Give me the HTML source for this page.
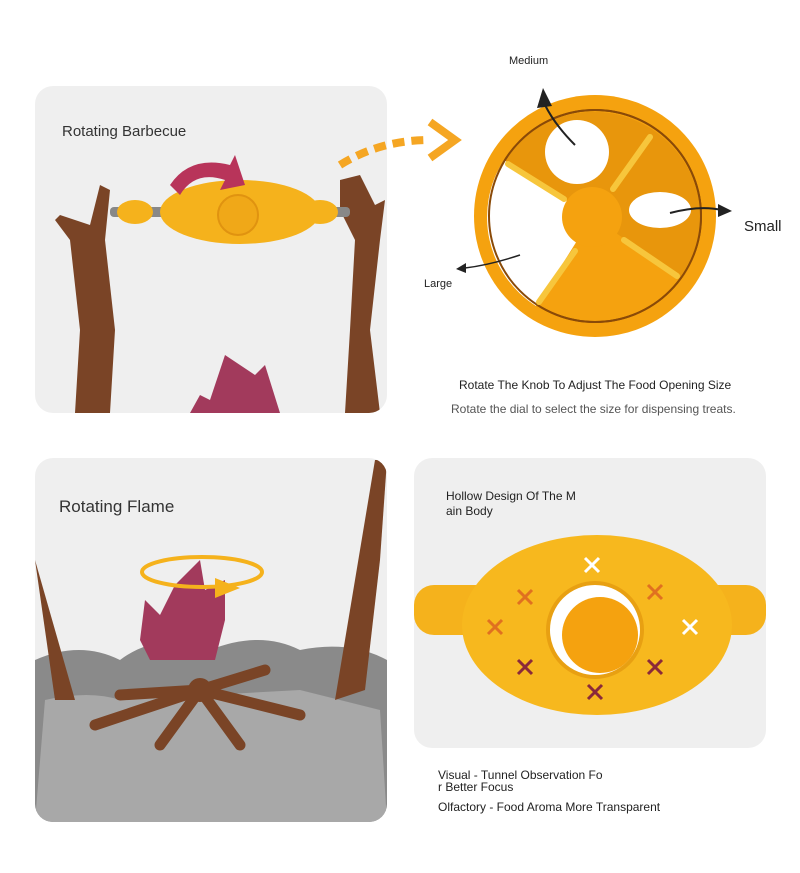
<!DOCTYPE html>
<html><head><meta charset="utf-8"><style>
body{margin:0;background:#fff;width:800px;height:873px;overflow:hidden;font-family:"Liberation Sans",sans-serif;}
svg{position:absolute;left:0;top:0}
</style></head><body>
<svg width="800" height="873" viewBox="0 0 800 873" xmlns="http://www.w3.org/2000/svg" font-family="Liberation Sans, sans-serif">
<defs>
<clipPath id="c1"><rect x="35" y="86" width="352" height="327" rx="18"/></clipPath>
<clipPath id="c2"><rect x="35" y="458" width="352" height="364" rx="18"/></clipPath>
<clipPath id="c3"><rect x="414" y="458" width="352" height="290" rx="18"/></clipPath>
</defs>
<!-- Panel 1 -->
<g clip-path="url(#c1)">
<rect x="35" y="86" width="352" height="327" fill="#efefef"/>
<path d="M60 215 L90 225 L100 185 L110 190 L105 240 L115 330 L110 413 L75 413 L80 330 L70 240 L55 220Z" fill="#7a4426"/>
<path d="M340 180 L360 175 L375 205 L385 200 L380 240 L370 330 L380 413 L345 413 L350 330 L355 240 L340 210Z" fill="#7a4426"/>
<rect x="110" y="207" width="240" height="10" rx="4" fill="#888"/>
<ellipse cx="240" cy="212" rx="80" ry="32" fill="#f5b21c"/>
<ellipse cx="135" cy="212" rx="18" ry="12" fill="#f5b21c"/>
<ellipse cx="320" cy="212" rx="18" ry="12" fill="#f5b21c"/>
<circle cx="238" cy="215" r="20" fill="#f0a818" stroke="#e09310" stroke-width="2"/>
<path d="M170 185 Q190 155 230 165 L235 155 L245 185 L220 190 L225 180 Q195 170 180 195Z" fill="#b8345a"/>
<path d="M190 413 L200 395 L210 400 L225 355 L255 375 L265 365 L280 413Z" fill="#a23a5c"/>
</g>
<text x="62" y="136" font-size="15" fill="#333">Rotating Barbecue</text>
<path d="M340 165 Q380 140 430 140" stroke="#f5a623" stroke-width="8" fill="none" stroke-dasharray="12 7"/>
<path d="M430 122 L455 140 L430 158" stroke="#f5a623" stroke-width="8" fill="none"/>
<!-- Wheel -->
<circle cx="595" cy="216" r="121" fill="#f5a20f"/>
<circle cx="595" cy="216" r="106" fill="#f5a20f" stroke="#8a4a08" stroke-width="2"/>
<path d="M592 217 L504 160 A105 105 0 0 1 683 278 Z" fill="#e8960c"/>
<path d="M592 217 L504 160 A105 105 0 0 0 536 306 Z" fill="#fff"/>
<circle cx="595" cy="216" r="106" fill="none" stroke="#8a4a08" stroke-width="2"/>
<circle cx="577" cy="152" r="32" fill="#fff"/>
<ellipse cx="660" cy="210" rx="31" ry="18" fill="#fff"/>
<circle cx="592" cy="217" r="30" fill="#f5a20f"/>
<g stroke="#f7c63c" stroke-width="6" stroke-linecap="round">
<line x1="508" y1="164" x2="564" y2="199"/><line x1="650" y1="137" x2="613" y2="189"/>
<line x1="624" y1="240" x2="677" y2="276"/><line x1="575" y1="251" x2="539" y2="302"/>
</g>
<path d="M575 145 Q555 125 545 105" stroke="#222" stroke-width="2" fill="none"/><path d="M537 108 L543 88 L552 106Z" fill="#222"/>
<path d="M670 213 Q700 205 722 210" stroke="#222" stroke-width="2" fill="none"/><path d="M718 204 L732 211 L718 217Z" fill="#222"/>
<path d="M520 255 Q490 265 465 268" stroke="#222" stroke-width="1.5" fill="none"/><path d="M466 263 L456 269 L466 273Z" fill="#222"/>
<text x="509" y="64" font-size="11" fill="#222">Medium</text>
<text x="744" y="231" font-size="15" fill="#222">Small</text>
<text x="424" y="287" font-size="11" fill="#222">Large</text>
<text x="459" y="389" font-size="12" fill="#222">Rotate The Knob To Adjust The Food Opening Size</text>
<text x="451" y="413" font-size="12" fill="#555">Rotate the dial to select the size for dispensing treats.</text>
<!-- Panel 2 -->
<g clip-path="url(#c2)">
<rect x="35" y="458" width="352" height="364" fill="#efefef"/>
<path d="M35 660 Q80 640 120 660 Q160 630 210 650 Q260 630 300 650 Q350 640 387 660 L387 822 L35 822Z" fill="#8a8a8a"/>
<path d="M45 700 Q90 690 120 700 L300 690 Q340 700 380 710 L387 822 L35 822Z" fill="#a8a8a8"/>
<path d="M35 560 L55 700 L75 700Z" fill="#7a4426"/>
<path d="M375 460 L387 460 L380 560 L365 690 L335 700 L355 580Z" fill="#7a4426"/>
<path d="M140 640 L145 600 L160 615 L175 585 L200 560 L205 590 L225 580 L225 620 L215 660 L150 660Z" fill="#a23a5c"/>
<g stroke="#7a4426" stroke-width="11" stroke-linecap="round">
<line x1="200" y1="690" x2="120" y2="695"/><line x1="200" y1="690" x2="300" y2="715"/>
<line x1="200" y1="690" x2="95" y2="725"/><line x1="200" y1="690" x2="240" y2="745"/>
<line x1="200" y1="690" x2="160" y2="745"/><line x1="200" y1="690" x2="265" y2="670"/>
</g>
<circle cx="200" cy="690" r="12" fill="#7a4426"/>
</g>
<ellipse cx="202" cy="572" rx="60" ry="15" fill="none" stroke="#f5b21c" stroke-width="4"/>
<path d="M215 578 L240 588 L215 598Z" fill="#f5b21c"/>
<text x="59" y="512" font-size="17" fill="#333">Rotating Flame</text>
<!-- Panel 3 -->
<g clip-path="url(#c3)">
<rect x="414" y="458" width="352" height="290" fill="#efefef"/>
<rect x="414" y="585" width="352" height="50" rx="20" fill="#f5b21c"/>
<ellipse cx="597" cy="625" rx="135" ry="90" fill="#f7b81e"/>
<circle cx="595" cy="630" r="47" fill="#fff" stroke="#e8a012" stroke-width="4"/>
<circle cx="600" cy="635" r="38" fill="#f5a20f"/>
<g stroke-width="3">
<path d="M585 558l14 14M599 558l-14 14" stroke="#fff"/>
<path d="M518 590l14 14M532 590l-14 14" stroke="#e07020"/>
<path d="M648 585l14 14M662 585l-14 14" stroke="#e07020"/>
<path d="M488 620l14 14M502 620l-14 14" stroke="#e07020"/>
<path d="M683 620l14 14M697 620l-14 14" stroke="#fff"/>
<path d="M518 660l14 14M532 660l-14 14" stroke="#8a2a3a"/>
<path d="M648 660l14 14M662 660l-14 14" stroke="#8a2a3a"/>
<path d="M588 685l14 14M602 685l-14 14" stroke="#8a2a3a"/>
</g>
</g>
<text x="446" y="500" font-size="12" fill="#222">Hollow Design Of The M</text>
<text x="446" y="515" font-size="12" fill="#222">ain Body</text>
<text x="438" y="779" font-size="12" fill="#222">Visual - Tunnel Observation Fo</text>
<text x="438" y="791" font-size="12" fill="#222">r Better Focus</text>
<text x="438" y="811" font-size="12" fill="#222">Olfactory - Food Aroma More Transparent</text>
</svg>
</body></html>
